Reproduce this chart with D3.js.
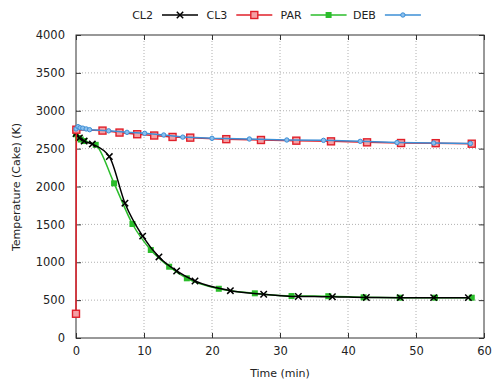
<!DOCTYPE html>
<html><head><meta charset="utf-8">
<script src="https://cdn.jsdelivr.net/npm/d3@7"></script>
<style>body{margin:0;background:#fff;}svg{display:block;font-family:"DejaVu Sans",sans-serif;}</style>
</head><body>
<svg id="c" width="492" height="383"></svg>
<script>
const xTicks = [0,10,20,30,40,50,60];
const yTicks = [0,500,1000,1500,2000,2500,3000,3500,4000];
const seriesNames = ["CL2","CL3","PAR","DEB"];

const cl2Time = [0,0.5,1.2,2.4,4.9,7.2,9.8,12.2,14.8,17.5,22.7,27.6,32.7,37.7,42.7,47.7,52.6,57.7];
const cl2Temp = [2700,2640,2600,2560,2395,1780,1345,1070,885,752,625,577,548,545,535,533,533,533];

const cl3Time = [0,0.05,3.9,6.4,9.0,11.5,14.2,16.8,22.1,27.2,32.4,37.5,42.8,47.8,52.9,58.2];
const cl3Temp = [320,2750,2738,2712,2690,2673,2654,2645,2625,2614,2605,2596,2583,2574,2572,2565];

const parTime = [0,0.3,0.7,1.2,2.9,5.6,8.3,11.0,13.7,16.3,21.0,26.3,31.7,37.1,42.3,47.6,52.8,58.2];
const parTemp = [2690,2640,2620,2600,2550,2042,1505,1162,941,788,650,590,554,552,537,532,532,532];

const debTime = [0,0.3,0.6,1.0,1.5,2.0,4.8,7.5,10.1,12.9,15.7,20.0,25.5,31.0,36.4,41.8,47.2,52.6,58.0];
const debTemp = [2760,2790,2775,2770,2760,2750,2735,2715,2702,2680,2652,2636,2627,2614,2609,2596,2580,2574,2568];

const svg = d3.select("#c");
const L=76, R=484, T=35, B=338;
const x = d3.scaleLinear().domain([0,60]).range([L,R]);
const y = d3.scaleLinear().domain([0,4000]).range([B,T]);
const txt = "#222";

// grid
const g = svg.append("g");
g.selectAll(".gx").data(xTicks.slice(1,-1)).join("line")
  .attr("x1",d=>x(d)).attr("x2",d=>x(d)).attr("y1",T).attr("y2",B)
  .attr("stroke","#b0b0b0").attr("stroke-width",1).attr("stroke-dasharray","1,2");
g.selectAll(".gy").data(yTicks.slice(1,-1)).join("line")
  .attr("y1",d=>y(d)).attr("y2",d=>y(d)).attr("x1",L).attr("x2",R)
  .attr("stroke","#b0b0b0").attr("stroke-width",1).attr("stroke-dasharray","1,2");

// axes (inward ticks)
const axB = svg.append("g").attr("transform",`translate(0,${B})`)
  .call(d3.axisBottom(x).tickValues(xTicks).tickSize(-5).tickPadding(9).tickFormat(d3.format("d")));
const axL = svg.append("g").attr("transform",`translate(${L},0)`)
  .call(d3.axisLeft(y).tickValues(yTicks).tickSize(-5).tickPadding(11).tickFormat(d3.format("d")));
const axT = svg.append("g").attr("transform",`translate(0,${T})`)
  .call(d3.axisTop(x).tickValues(xTicks).tickSize(-5).tickFormat(""));
const axR = svg.append("g").attr("transform",`translate(${R},0)`)
  .call(d3.axisRight(y).tickValues(yTicks).tickSize(-5).tickFormat(""));
[axB,axL,axT,axR].forEach(a=>{
  a.select(".domain").remove();
  a.selectAll("line").attr("stroke","#333");
  a.selectAll("text").attr("fill",txt).style("font-size","11.5px").style("font-family","DejaVu Sans, sans-serif");
});
svg.append("rect").attr("x",L).attr("y",T).attr("width",R-L).attr("height",B-T)
  .attr("fill","none").attr("stroke","#333").attr("stroke-width",1);

// axis titles
svg.append("text").attr("x",(L+R)/2).attr("y",377).attr("text-anchor","middle")
  .attr("fill",txt).style("font-size","11px").text("Time (min)");
svg.append("text").attr("transform","translate(20,187) rotate(-90)").attr("text-anchor","middle")
  .attr("fill",txt).style("font-size","11px").text("Temperature (Cake) (K)");

// series
const col = {CL2:"#000000", CL3:"#e0202a", PAR:"#2bbd2b", DEB:"#3d8fd6"};
function pts(t,v){return t.map((d,i)=>[d,v[i]]);}
const data = {
  CL2: pts(cl2Time,cl2Temp), CL3: pts(cl3Time,cl3Temp),
  PAR: pts(parTime,parTemp), DEB: pts(debTime,debTemp)
};
const lineSmooth = d3.line().x(d=>x(d[0])).y(d=>y(d[1])).curve(d3.curveMonotoneX);
const lineLin = d3.line().x(d=>x(d[0])).y(d=>y(d[1]));

function marker(sel,name,cx,cy){
  const c = col[name];
  if(name==="CL2"){
    const s=3.2;
    sel.append("path").attr("d",`M${cx-s},${cy-s}L${cx+s},${cy+s}M${cx-s},${cy+s}L${cx+s},${cy-s}`)
      .attr("stroke",c).attr("stroke-width",1.5);
  } else if(name==="CL3"){
    sel.append("rect").attr("x",cx-3.5).attr("y",cy-3.5).attr("width",7).attr("height",7)
      .attr("fill","#f4a0a4").attr("stroke",c).attr("stroke-width",1.4);
  } else if(name==="PAR"){
    sel.append("rect").attr("x",cx-3).attr("y",cy-3).attr("width",6).attr("height",6)
      .attr("fill",c).attr("stroke","none");
  } else {
    sel.append("circle").attr("cx",cx).attr("cy",cy).attr("r",2.2)
      .attr("fill","#8cc0ee").attr("stroke",c).attr("stroke-width",1);
  }
}

const order = ["PAR","CL2","CL3","DEB"];
order.forEach(name=>{
  const gg = svg.append("g");
  const ln = (name==="CL2"||name==="PAR") ? lineSmooth : lineLin;
  gg.append("path").datum(data[name]).attr("d",ln).attr("fill","none")
    .attr("stroke",col[name]).attr("stroke-width",1.5);
  data[name].forEach(d=>marker(gg,name,x(d[0]),y(d[1])));
});

// legend
const lg = svg.append("g");
seriesNames.forEach((name,i)=>{
  const ex = 153 + 74.3*i, ly = 15;
  lg.append("text").attr("x",ex).attr("y",ly+4).attr("text-anchor","end")
    .attr("fill",txt).style("font-size","11px").text(name);
  lg.append("line").attr("x1",ex+9).attr("x2",ex+45).attr("y1",ly).attr("y2",ly)
    .attr("stroke",col[name]).attr("stroke-width",1.5);
  marker(lg,name,ex+27,ly);
});
</script>
</body></html>
